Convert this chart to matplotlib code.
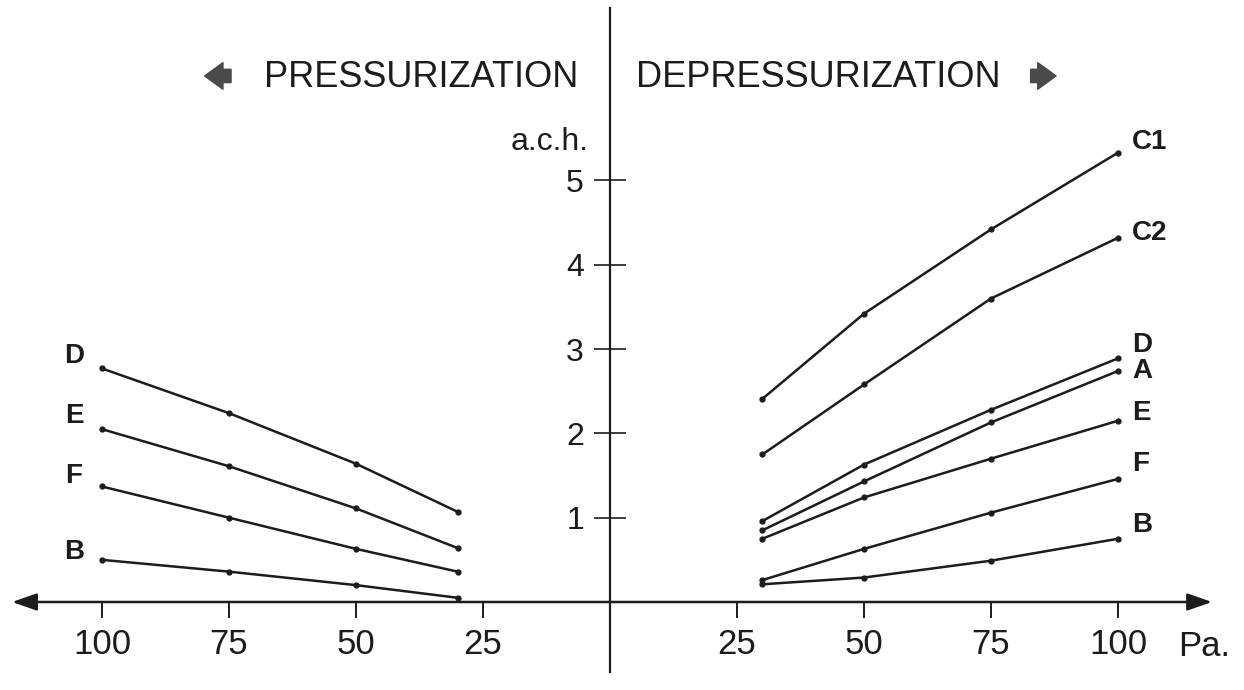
import matplotlib.pyplot as plt

# pressure differences (Pa), left side is pressurization (drawn as negative x)
pa_right = [30, 50, 75, 100]
pa_left = [-100, -75, -50, -30]

# depressurization, air changes per hour
dep_C1 = [2.41, 3.42, 4.42, 5.33]
dep_C2 = [1.75, 2.58, 3.60, 4.32]
dep_D = [0.96, 1.63, 2.28, 2.89]
dep_A = [0.85, 1.43, 2.13, 2.74]
dep_E = [0.75, 1.24, 1.70, 2.15]
dep_F = [0.26, 0.63, 1.06, 1.46]
dep_B = [0.21, 0.29, 0.49, 0.75]

# pressurization, air changes per hour
pre_D = [2.77, 2.24, 1.64, 1.07]
pre_E = [2.05, 1.61, 1.11, 0.64]
pre_F = [1.37, 1.00, 0.63, 0.36]
pre_B = [0.50, 0.36, 0.20, 0.05]

x_ticks = [-100, -75, -50, -25, 25, 50, 75, 100]
x_labels = ['100', '75', '50', '25', '25', '50', '75', '100']
y_ticks = [1, 2, 3, 4, 5]

ink = '#1c1c1c'
plt.rcParams['font.family'] = ['Liberation Sans', 'DejaVu Sans']

fig = plt.figure(figsize=(12.44, 6.9), dpi=100, facecolor='white')
ax = fig.add_axes([0, 0, 1, 1])
ax.set_xlim(-120.08, 124.8)
ax.set_ylim(-1.044, 7.141)

# axes through the origin
ax.spines[['top', 'right', 'bottom']].set_visible(False)
ax.spines['left'].set_position(('data', 0))
ax.spines['bottom'].set_position(('data', 0))
ax.spines['left'].set_bounds(-0.83, 7.05)
ax.spines['left'].set_linewidth(1.6)
ax.spines['left'].set_color(ink)
ax.annotate('', xy=(-117.7, 0), xytext=(118.5, 0),
            arrowprops=dict(arrowstyle='<|-|>,head_length=1.0,head_width=0.35',
                            color=ink, lw=1.8, mutation_scale=15,
                            shrinkA=0, shrinkB=0))

ax.set_xticks(x_ticks)
ax.set_xticklabels(x_labels)
ax.set_yticks(y_ticks)
ax.tick_params(axis='x', direction='out', length=11.5, width=1.4, pad=7,
               labelsize=25, color=ink, labelcolor=ink)
ax.tick_params(axis='y', direction='inout', length=23.5, width=1.2, pad=7,
               labelsize=23, color=ink, labelcolor=ink)

ax.annotate('Pa.', xy=(111.8, 0), xytext=(0, -28), textcoords='offset pixels',
            ha='left', va='top', fontsize=25, color=ink)
ax.text(-4.3, 5.36, 'a.c.h.', ha='right', va='baseline', fontsize=23, color=ink)

# curves
right = [('C1', dep_C1, 11), ('C2', dep_C2, 5), ('D', dep_D, 13), ('A', dep_A, 0),
         ('E', dep_E, 8), ('F', dep_F, 15), ('B', dep_B, 14)]
for name, vals, up in right:
    ax.plot(pa_right, vals, '-', color=ink, lw=1.8, marker='o', ms=3.5)
    ax.annotate(name, xy=(pa_right[-1], vals[-1]), xytext=(14, up),
                textcoords='offset pixels', ha='left', va='center',
                fontsize=20, fontweight='bold', color=ink)

left = [('D', pre_D, 12), ('E', pre_E, 13), ('F', pre_F, 10), ('B', pre_B, 8)]
for name, vals, up in left:
    ax.plot(pa_left, vals, '-', color=ink, lw=1.8, marker='o', ms=3.5)
    ax.annotate(name, xy=(pa_left[0], vals[0]), xytext=(-28, up),
                textcoords='offset pixels', ha='center', va='center',
                fontsize=20, fontweight='bold', color=ink)

# headings
ax.text(-6.3, 6.22, 'PRESSURIZATION', ha='right', va='center', fontsize=26, color=ink)
ax.text(5.1, 6.22, 'DEPRESSURIZATION', ha='left', va='center', fontsize=26, color=ink)
fat = dict(arrowstyle='simple,head_length=0.55,head_width=0.8,tail_width=0.4',
           color='#4a4a4a', mutation_scale=24, shrinkA=0, shrinkB=0)
ax.annotate('', xy=(-79.8, 6.24), xytext=(-74.6, 6.24), arrowprops=fat)
ax.annotate('', xy=(87.8, 6.24), xytext=(82.8, 6.24), arrowprops=fat)

fig.savefig('out.png', dpi=100, facecolor='white')
